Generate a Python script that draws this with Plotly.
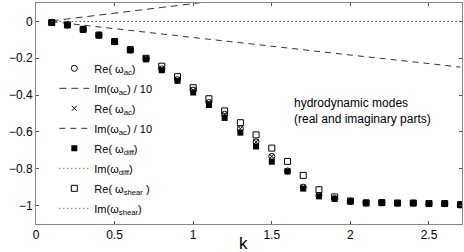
import plotly.graph_objects as go

k = [0.1, 0.2, 0.3, 0.4, 0.5, 0.6, 0.7, 0.8, 0.9, 1.0, 1.1, 1.2, 1.3, 1.4, 1.5,
     1.6, 1.7, 1.8, 1.9, 2.0, 2.1, 2.2, 2.3, 2.4, 2.5, 2.6, 2.7]

re_ac = [-0.005, -0.02, -0.044, -0.075, -0.11, -0.155, -0.203, -0.258, -0.316, -0.373,
         -0.44, -0.504, -0.582, -0.654, -0.733, -0.812, -0.9, -0.945, -0.962, -0.977,
         -0.986, -0.985, -0.987, -0.987, -0.99, -0.99, -0.996]
im_ac_up = [0.003, 0.014, 0.025, 0.036, 0.046, 0.056, 0.066, 0.076, 0.086, 0.097,
            0.108, 0.119, 0.13, 0.141, 0.152, 0.163, 0.174, 0.185, 0.196, 0.207,
            0.218, 0.229, 0.24, 0.251, 0.262, 0.273, 0.284]
re_ac2 = [-0.005, -0.02, -0.044, -0.075, -0.11, -0.155, -0.203, -0.258, -0.316, -0.373,
          -0.44, -0.504, -0.582, -0.654, -0.733, -0.812, -0.9, -0.945, -0.962, -0.977,
          -0.986, -0.985, -0.987, -0.987, -0.99, -0.99, -0.996]
im_ac_dn = [-0.001, -0.011, -0.021, -0.03, -0.04, -0.049, -0.059, -0.068, -0.078, -0.087,
            -0.097, -0.106, -0.116, -0.125, -0.135, -0.144, -0.154, -0.163, -0.173, -0.182,
            -0.192, -0.201, -0.211, -0.22, -0.23, -0.239, -0.248]
re_diff = [-0.007, -0.02, -0.044, -0.076, -0.112, -0.157, -0.206, -0.265, -0.323, -0.386,
           -0.454, -0.524, -0.604, -0.679, -0.762, -0.815, -0.908, -0.95, -0.964, -0.978,
           -0.987, -0.985, -0.987, -0.987, -0.99, -0.99, -0.996]
im_diff = [0.0, 0.0, 0.0, 0.0, 0.0, 0.0, 0.0, 0.0, 0.0, 0.0, 0.0, 0.0, 0.0, 0.0, 0.0,
           0.0, 0.0, 0.0, 0.0, 0.0, 0.0, 0.0, 0.0, 0.0, 0.0, 0.0, 0.0]
re_shear = [-0.006, -0.019, -0.043, -0.074, -0.109, -0.153, -0.2, -0.243, -0.3, -0.36,
            -0.42, -0.486, -0.55, -0.616, -0.688, -0.76, -0.836, -0.914, -0.953, -0.975,
            -0.985, -0.984, -0.986, -0.986, -0.989, -0.989, -0.995]
im_shear = [0.0, 0.0, 0.0, 0.0, 0.0, 0.0, 0.0, 0.0, 0.0, 0.0, 0.0, 0.0, 0.0, 0.0, 0.0,
            0.0, 0.0, 0.0, 0.0, 0.0, 0.0, 0.0, 0.0, 0.0, 0.0, 0.0, 0.0]

x_ticks = [0, 0.5, 1, 1.5, 2, 2.5]
x_labels = ["0", "0.5", "1", "1.5", "2", "2.5"]
y_ticks = [0, -0.2, -0.4, -0.6, -0.8, -1]
y_labels = ["0", "\u22120.2", "\u22120.4", "\u22120.6", "\u22120.8", "\u22121"]

names = ["Re( ω<sub>ac</sub>)", "Im(ω<sub>ac</sub>) / 10", "Re( ω<sub>ac</sub>)",
         "Im(ω<sub>ac</sub>) / 10", "Re( ω<sub>diff</sub>)", "Im(ω<sub>diff</sub>)",
         "Re( ω<sub>shear</sub> )", "Im(ω<sub>shear</sub>)"]

FONT = "Liberation Sans, Arial, sans-serif"
fig = go.Figure()

fig.add_trace(go.Scatter(x=k, y=re_ac, mode="markers", name=names[0], legendgroup="a",
                         marker=dict(symbol="circle-open", size=6, color="black",
                                     line=dict(width=1, color="black"))))
fig.add_trace(go.Scatter(x=k, y=im_ac_up, mode="lines", name=names[1], legendgroup="b",
                         line=dict(color="#333", width=1, dash="7px,5px")))
fig.add_trace(go.Scatter(x=k, y=re_ac2, mode="markers", name=names[2], legendgroup="c",
                         marker=dict(symbol="x-thin-open", size=5, color="black",
                                     line=dict(width=1, color="black"))))
fig.add_trace(go.Scatter(x=k, y=im_ac_dn, mode="lines", name=names[3], legendgroup="d",
                         line=dict(color="#333", width=1, dash="6px,5px")))
fig.add_trace(go.Scatter(x=k, y=re_diff, mode="markers", name=names[4], legendgroup="e",
                         marker=dict(symbol="square", size=6, color="black")))
fig.add_trace(go.Scatter(x=k, y=im_diff, mode="lines", name=names[5], legendgroup="f",
                         line=dict(color="#444", width=1, dash="1px,3px")))
fig.add_trace(go.Scatter(x=k, y=re_shear, mode="markers", name=names[6], legendgroup="g",
                         marker=dict(symbol="square-open", size=6, color="black",
                                     line=dict(width=1, color="black"))))
fig.add_trace(go.Scatter(x=k, y=im_shear, mode="lines", name=names[7], legendgroup="h",
                         line=dict(color="#444", width=1, dash="1px,3px")))

fig.add_annotation(x=1.63, y=-0.486, xref="x", yref="y", xanchor="left", yanchor="middle",
                   text="hydrodynamic modes<br>(real and imaginary parts)", showarrow=False,
                   align="left", font=dict(family=FONT, size=12, color="black"))

fig.add_annotation(x=0.486, y=-0.086, xref="paper", yref="paper", xanchor="center",
                   yanchor="middle", text="k", showarrow=False,
                   font=dict(family=FONT, size=17, color="black"))

fig.update_layout(
    width=464, height=252,
    margin=dict(l=36, r=2, t=3, b=28, autoexpand=False),
    paper_bgcolor="white", plot_bgcolor="white",
    font=dict(family=FONT, size=12, color="black"),
    legend=dict(x=0.043, y=0.77, xanchor="left", yanchor="top", bgcolor="rgba(0,0,0,0)",
                font=dict(family=FONT, size=11, color="black"), tracegroupgap=1,
                itemwidth=30),
    xaxis=dict(range=[0, 2.71], tickvals=x_ticks, ticktext=x_labels, automargin=False,
               ticks="inside", ticklen=3, mirror="ticks", showline=True, linecolor="#888",
               linewidth=1, showgrid=False, zeroline=False, tickcolor="#555",
               tickfont=dict(family=FONT, size=12)),
    yaxis=dict(range=[-1.1, 0.1], tickvals=y_ticks, ticktext=y_labels, automargin=False,
               ticks="inside", ticklen=3, mirror="ticks", showline=True, linecolor="#888",
               linewidth=1, showgrid=False, zeroline=False, tickcolor="#555",
               tickfont=dict(family=FONT, size=12)),
)

fig.write_html("out.html", config={"displayModeBar": False},
               post_script="document.body.style.margin='0';document.body.style.overflow='hidden';")
